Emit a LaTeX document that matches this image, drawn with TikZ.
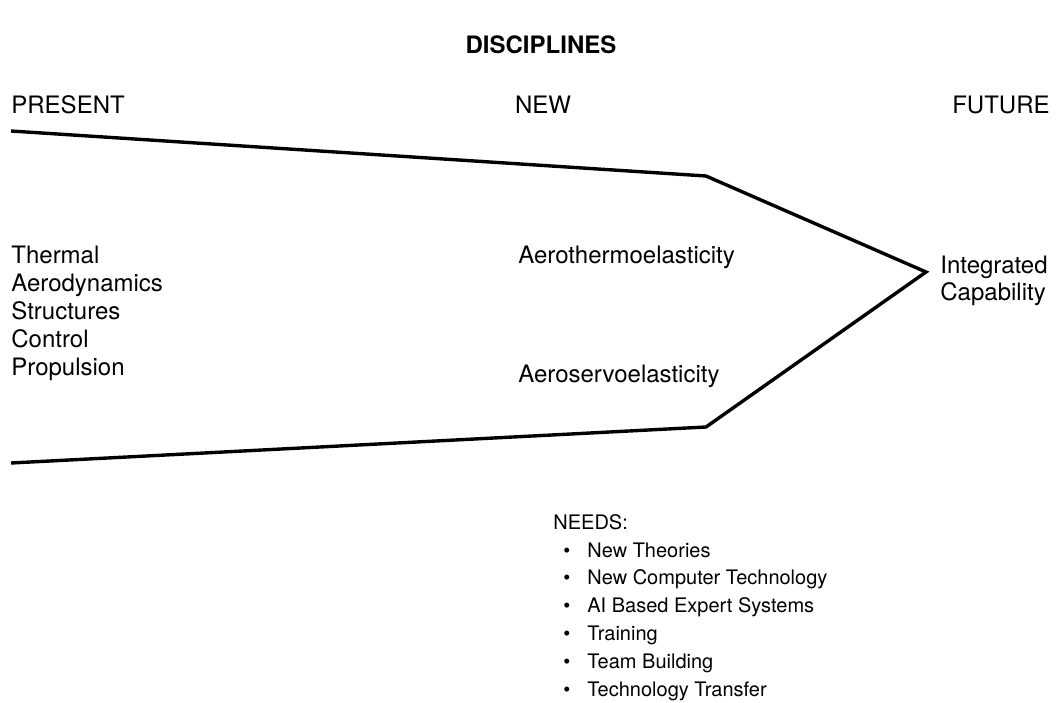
\documentclass[tikz,border=0pt]{standalone}
\usepackage{fontspec}
\setmainfont{TeX Gyre Heros}
\usepackage{xcolor}
\usepackage{tikz}
\usetikzlibrary{calc}
\definecolor{ink}{HTML}{000000}
\tikzset{
  base/.style={draw=ink, line width=1.7pt, line cap=butt, line join=miter},
  lab/.style={text=ink, font=\fontsize{12}{14}\selectfont, inner sep=0pt},
  labb/.style={lab, font=\fontsize{12}{14}\selectfont\bfseries},
  labs/.style={lab, font=\fontsize{10}{12}\selectfont},
}

\begin{document}
\begin{tikzpicture}[x=0.5pt,y=-0.5pt]
  \useasboundingbox (0,0) rectangle (1061,702);
  \coordinate (TL) at (11,131);
  \coordinate (TC) at (706,176);
  \coordinate (A) at (926,272);
  \coordinate (BC) at (706,427);
  \coordinate (BL) at (11,463);

  \draw[base] (TL) -- (TC) -- (A) -- (BC) -- (BL);

  \node[labb] (title) at (541,45) {DISCIPLINES};
  \node[lab,anchor=base west] (present) at (11,113) {PRESENT};
  \node[lab] (new) at (543,105) {NEW};
  \node[lab,anchor=base east] (future) at (1050,113) {FUTURE};

  \foreach \t [count=\i] in {Thermal,Aerodynamics,Structures,Control,Propulsion}
    \node[lab,anchor=base west] (disc\i) at (11,{263+28*(\i-1)}) {\t};

  \node[lab,anchor=base west] (ate) at (518,263) {Aerothermoelasticity};
  \node[lab,anchor=base west] (ase) at (518,382) {Aeroservoelasticity};
  \node[lab,anchor=base west] (int) at (940,273) {Integrated};
  \node[lab,anchor=base west] (cap) at (940,300) {Capability};

  \node[labs,anchor=base west] (needs) at (553,529) {NEEDS:};
  \foreach \t [count=\i] in {New Theories,New Computer Technology,AI Based Expert Systems,Training,Team Building,Technology Transfer}
    \node[labs,anchor=base west] (need\i) at (563,{557+27.8*(\i-1)}) {\makebox[12pt][l]{\textbullet}\t};
\end{tikzpicture}
\end{document}
